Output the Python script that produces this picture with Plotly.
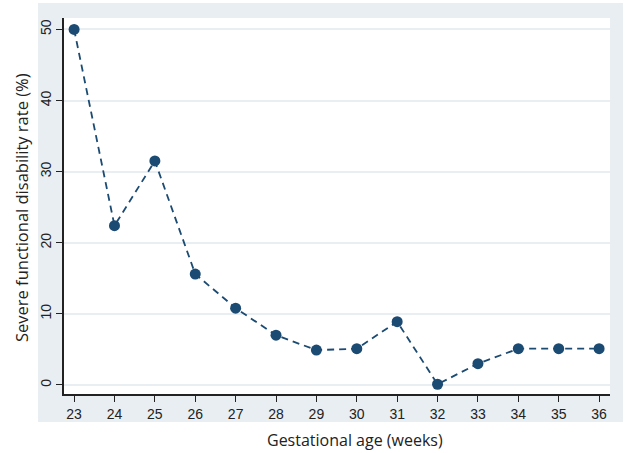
import plotly.graph_objects as go

weeks = [23, 24, 25, 26, 27, 28, 29, 30, 31, 32, 33, 34, 35, 36]
rate = [50.0, 22.4, 31.5, 15.6, 10.8, 7.0, 4.9, 5.1, 8.9, 0.1, 3.0, 5.1, 5.1, 5.1]
y_ticks = [0, 10, 20, 30, 40, 50]
x_title = "Gestational age (weeks)"
y_title = "Severe functional disability rate (%)"

W, H = 630, 453
L, R, T, B = 64, 20, 18, 59
pw, ph = W - L - R, H - T - B

def px(xp):
    return (xp - L) / pw

def py(yp):
    return (H - B - yp) / ph

navy = "#1b4a72"
fig = go.Figure()
fig.add_trace(go.Scatter(
    x=weeks, y=rate, mode="lines+markers",
    line=dict(color=navy, width=1.8, dash="7px,5px"),
    marker=dict(color=navy, size=11),
    cliponaxis=False, showlegend=False,
))

fig.update_layout(
    width=W, height=H,
    margin=dict(l=L, r=R, t=T, b=B),
    paper_bgcolor="white", plot_bgcolor="white",
    font=dict(family="Liberation Sans, Arial", size=14, color="#222"),
    xaxis=dict(range=[22.75, 36.27], tickvals=weeks, showgrid=False,
               showline=True, linecolor="#222", linewidth=1.5,
               ticks="outside", ticklen=6, tickcolor="#222", zeroline=False),
    yaxis=dict(range=[-1.27, 51.6], tickvals=y_ticks, tickangle=-90,
               showgrid=True, gridcolor="#e8eef2", gridwidth=1.5,
               showline=True, linecolor="#222", linewidth=1.5,
               ticks="outside", ticklen=6, tickcolor="#222", zeroline=False),
    shapes=[
        dict(type="rect", xref="paper", yref="paper", layer="below",
             x0=px(38), x1=px(623), y0=py(422), y1=py(3),
             fillcolor="#e8eef2", line=dict(width=0)),
        dict(type="rect", xref="paper", yref="paper", layer="below",
             x0=0, x1=1, y0=0, y1=1,
             fillcolor="white", line=dict(width=0)),
    ],
    annotations=[
        dict(text=x_title, xref="paper", yref="paper", x=px(355), y=py(440),
             showarrow=False, xanchor="center", yanchor="middle",
             font=dict(family="Open Sans", size=16, color="#222")),
        dict(text=y_title, xref="paper", yref="paper", x=px(22), y=py(208),
             showarrow=False, xanchor="center", yanchor="middle", textangle=-90,
             font=dict(family="Open Sans", size=16.5, color="#222")),
    ],
)

fig.write_html("out.html", config={"displayModeBar": False})

with open("out.html", "r", encoding="utf-8") as f:
    html = f.read()
html = html.replace("<body>", '<body style="margin:0;padding:0;">', 1)
with open("out.html", "w", encoding="utf-8") as f:
    f.write(html)
